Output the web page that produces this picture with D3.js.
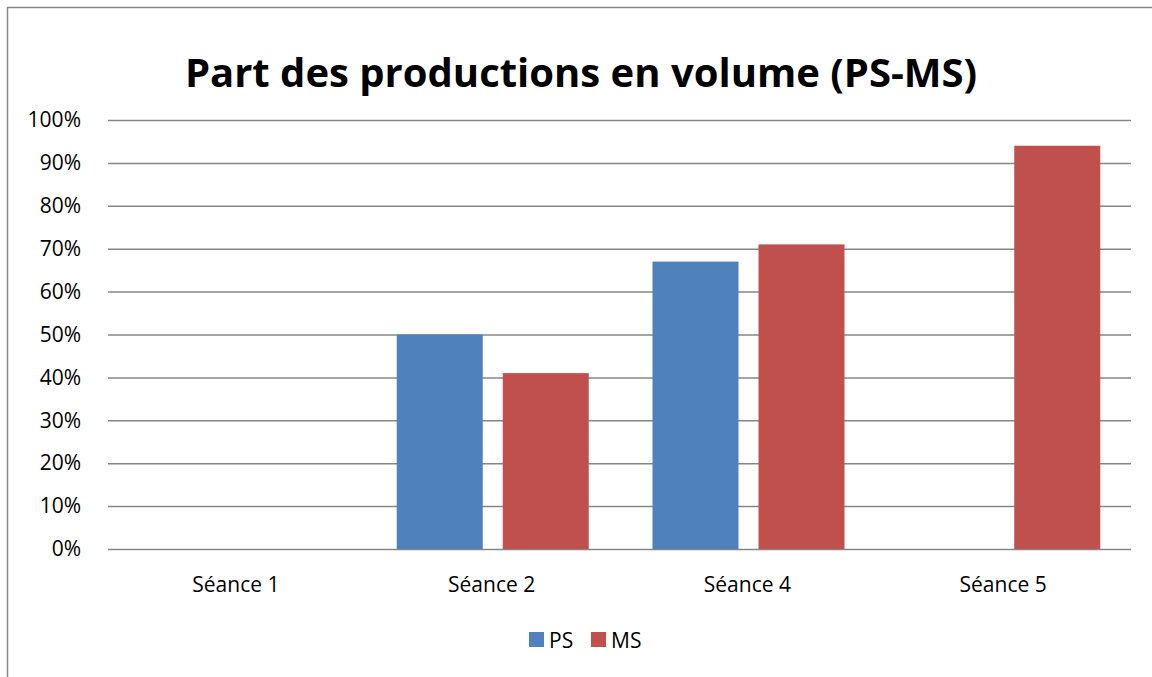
<!DOCTYPE html>
<html>
<head>
<meta charset="utf-8">
<script src="https://cdn.jsdelivr.net/npm/d3@7"></script>
<style>
  body { margin: 0; background: #fff; }
  svg { display: block; font-family: "Open Sans", "Noto Sans", sans-serif; }
</style>
</head>
<body>
<div id="main"></div>
<script>
const categories = ['Séance 1', 'Séance 2', 'Séance 4', 'Séance 5']
const series = ['PS', 'MS']
const psValues = [0, 0.50, 0.67, 0]
const msValues = [0, 0.41, 0.71, 0.94]
const yTicks = [0, 0.1, 0.2, 0.3, 0.4, 0.5, 0.6, 0.7, 0.8, 0.9, 1]
const colors = { PS: '#4F81BD', MS: '#C0504D' }

const ctx = {
    w: 1152,
    h: 677,
    left: 108,
    right: 1131,
    top: 120,
    bottom: 549
}

function createViz() {
    let svgEl = d3.select('#main').append('svg')
        .attr('width', ctx.w)
        .attr('height', ctx.h)

    // chart area border (only left/top visible in the crop)
    svgEl.append('rect')
        .attr('x', 7.5).attr('y', 7.5)
        .attr('width', ctx.w + 20).attr('height', ctx.h + 20)
        .attr('fill', 'none')
        .attr('stroke', '#868686')
        .attr('stroke-width', 1.5)

    svgEl.append('text')
        .attr('x', 581)
        .attr('y', 87)
        .attr('text-anchor', 'middle')
        .attr('font-size', 40)
        .attr('font-weight', 'bold')
        .attr('fill', '#000')
        .text('Part des productions en volume (PS-MS)')

    let xScale = d3.scaleBand().domain(categories).range([ctx.left, ctx.right])
    let xInner = d3.scaleBand().domain(series).range([33, 225]).paddingInner(0.1887)
    let yScale = d3.scaleLinear().domain([0, 1]).range([ctx.bottom, ctx.top])

    // gridlines + y labels
    let yAxis = d3.axisLeft(yScale)
        .tickValues(yTicks)
        .tickFormat(d3.format('.0%'))
        .tickSize(-(ctx.right - ctx.left))
        .tickPadding(27)
    let gy = svgEl.append('g')
        .attr('transform', `translate(${ctx.left},0)`)
        .call(yAxis)
    gy.select('.domain').remove()
    gy.selectAll('line').attr('stroke', '#868686').attr('stroke-width', 1.5)
    gy.selectAll('text').attr('font-size', 21).attr('fill', '#000')
        .attr('font-family', '"Open Sans", sans-serif')

    let data = categories.map((c, i) => ({ cat: c, PS: psValues[i], MS: msValues[i] }))

    let groups = svgEl.selectAll('g.cat')
        .data(data)
        .join('g')
        .attr('class', 'cat')
        .attr('transform', d => `translate(${xScale(d.cat)},0)`)

    groups.selectAll('rect')
        .data(d => series.map(s => ({ key: s, value: d[s] })))
        .join('rect')
        .attr('x', d => xInner(d.key))
        .attr('width', xInner.bandwidth())
        .attr('y', d => yScale(d.value))
        .attr('height', d => ctx.bottom - yScale(d.value))
        .attr('fill', d => colors[d.key])

    // x labels
    let xAxis = d3.axisBottom(xScale).tickSize(0).tickPadding(28)
    let gx = svgEl.append('g')
        .attr('transform', `translate(0,${ctx.bottom})`)
        .call(xAxis)
    gx.select('.domain').remove()
    gx.selectAll('text').attr('font-size', 21).attr('fill', '#000')
        .attr('font-family', '"Open Sans", sans-serif')

    // legend
    let legendX = [529, 591]
    let legend = svgEl.selectAll('g.legend')
        .data(series)
        .join('g')
        .attr('class', 'legend')
        .attr('transform', (d, i) => `translate(${legendX[i]},632)`)
    legend.append('rect')
        .attr('width', 15).attr('height', 15)
        .attr('fill', d => colors[d])
    legend.append('text')
        .attr('x', 20).attr('y', 16)
        .attr('font-size', 21)
        .attr('fill', '#000')
        .text(d => d)
}

createViz()
</script>
</body>
</html>
